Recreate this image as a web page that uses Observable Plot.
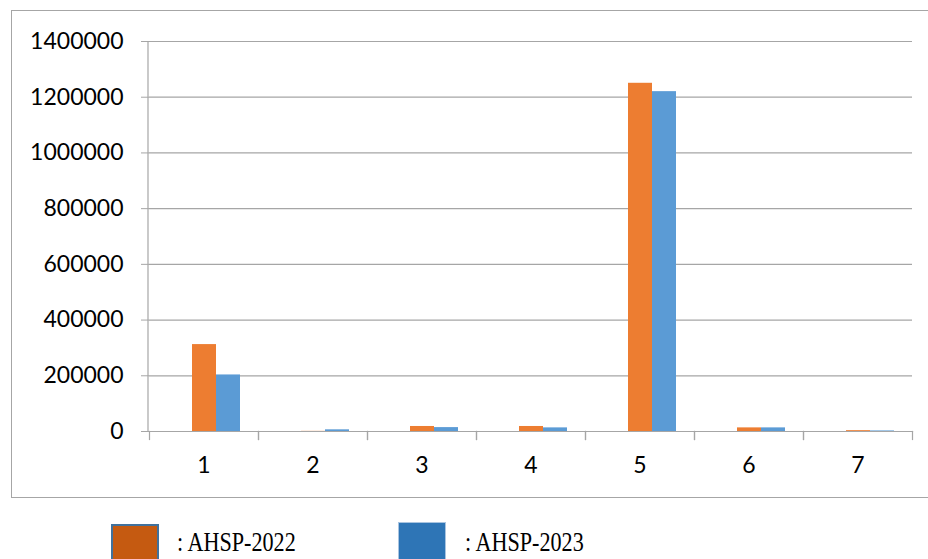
<!DOCTYPE html>
<html><head><meta charset="utf-8">
<script src="https://cdn.jsdelivr.net/npm/d3@7"></script>
<script src="https://cdn.jsdelivr.net/npm/@observablehq/plot@0.6"></script>
<style>
body{margin:0;background:#fff;width:928px;height:559px;overflow:hidden;position:relative;}
#chart{position:absolute;left:11px;top:10px;width:930px;height:486px;border:1px solid #a6a6a6;background:#fff}
#chart svg{display:block;overflow:visible}
.sw{position:absolute;width:48px;height:40px;box-sizing:border-box}
.lt{position:absolute;font-family:"Liberation Serif","Times New Roman",serif;font-size:27px;line-height:1;color:#000;transform-origin:0 0;transform:scaleX(0.82);white-space:nowrap}
</style></head><body>
<div id="chart"></div>
<div id="legend"></div>
<script>
// ---- data ----
const categories = [1, 2, 3, 4, 5, 6, 7];
const seriesNames = ["AHSP-2022", "AHSP-2023"];
const ahsp2022 = [312000, 500, 18000, 18000, 1250000, 13000, 3000];
const ahsp2023 = [203000, 6000, 14000, 13000, 1220000, 13000, 2000];
const yTicks = [0, 200000, 400000, 600000, 800000, 1000000, 1200000, 1400000];
// empty leading slot (Excel chart has a blank first series)
const slots = ["", ...seriesNames];

const rows = [];
categories.forEach((c, i) => {
  rows.push({cat: c, series: seriesNames[0], value: ahsp2022[i]});
  rows.push({cat: c, series: seriesNames[1], value: ahsp2023[i]});
});

const axisGray = "#a6a6a6";
const plot = Plot.plot({
  width: 902, height: 486,
  marginLeft: 136, marginRight: 1, marginTop: 30, marginBottom: 66,
  style: {fontFamily: "Lato, 'Open Sans', sans-serif", fontSize: "23px", color: "#000", background: "#fff", overflow: "visible"},
  fx: {domain: categories, padding: 0, label: null, axis: null},
  x: {domain: slots, paddingInner: 0, paddingOuter: 0.75, axis: null},
  y: {domain: [0, 1400000], axis: null},
  color: {domain: seriesNames, range: ["#ed7d31", "#5b9bd5"]},
  marks: [
    Plot.gridY(yTicks, {stroke: axisGray, strokeOpacity: 1, strokeWidth: 1.2}),
    Plot.barY(rows, {fx: "cat", x: "series", y: "value", fill: "series"}),
    Plot.axisY(yTicks, {tickSize: 8, tickPadding: 18, tickFormat: d => String(d), stroke: axisGray, strokeOpacity: 1, fill: "#000", label: null}),
    Plot.axisFx({anchor: "bottom", tickSize: 0, tickPadding: 25, label: null, fill: "#000"}),
    Plot.frame({anchor: "bottom", stroke: axisGray, strokeWidth: 1.2}),
    Plot.frame({anchor: "left", insetTop: 390, insetBottom: -8, stroke: axisGray, strokeWidth: 1.2}),
    Plot.frame({anchor: "right", insetTop: 390, insetBottom: -8, stroke: axisGray, strokeWidth: 1.2})
  ]
});
document.getElementById("chart").appendChild(plot);

// vertical y axis line using the plot's y scale
const ys = plot.scale("y");
d3.select(plot).append("line")
  .attr("x1", 136).attr("x2", 136)
  .attr("y1", ys.apply(0)).attr("y2", ys.apply(1400000))
  .attr("stroke", axisGray).attr("stroke-width", 1.2);

// legend
const leg = document.getElementById("legend");
const legItems = [
  {name: seriesNames[0], fill: "#c55a11", border: "2px solid #41719c", sx: 111, sy: 524, tx: 177},
  {name: seriesNames[1], fill: "#2e75b6", border: "1px solid #a9c4e0", sx: 398, sy: 522, tx: 465}
];
legItems.forEach(it => {
  const s = document.createElement("div");
  s.className = "sw";
  s.style.left = it.sx + "px"; s.style.top = it.sy + "px";
  s.style.background = it.fill; s.style.border = it.border;
  leg.appendChild(s);
  const t = document.createElement("div");
  t.className = "lt";
  t.style.left = it.tx + "px"; t.style.top = "529px";
  t.textContent = ": " + it.name;
  leg.appendChild(t);
});
</script>
</body></html>
